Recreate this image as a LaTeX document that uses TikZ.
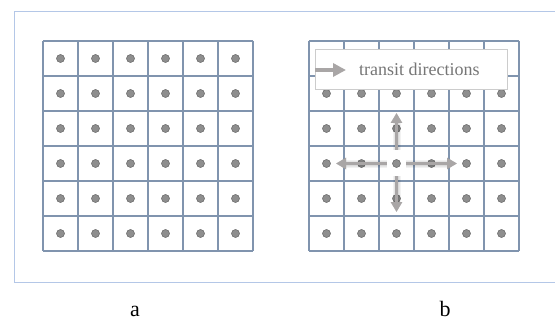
\documentclass[tikz,border=0pt]{standalone}
\usepackage{fontspec}
\setmainfont{Liberation Serif}
\usetikzlibrary{arrows.meta}
\definecolor{gridc}{HTML}{8094AE}
\definecolor{framec}{HTML}{B4C7E7}
\definecolor{dotfill}{HTML}{8E8E8E}
\definecolor{dotline}{HTML}{6E6E6E}
\definecolor{arrc}{HTML}{A9A6A6}
\definecolor{legline}{HTML}{CCCCCC}
\definecolor{legtext}{HTML}{767676}
\tikzset{
  gridline/.style={draw=gridc, line width=1.6pt},
  dotnode/.style={circle, fill=dotfill, draw=dotline, line width=0.6pt, inner sep=0pt, minimum size=8pt},
  dirarrow/.style={draw=arrc, line width=2.8pt, -{Triangle[length=10pt,width=11pt]}},
  shadowarrow/.style={draw=black, opacity=0.05, line width=#1, -{Triangle[length=10pt,width=11pt]}},
  framebox/.style={draw=framec, line width=1pt},
  legendbox/.style={draw=legline, fill=white, line width=0.8pt, minimum width=192pt, minimum height=40pt, inner sep=0pt},
  sublabel/.style={font=\fontsize{22}{24}\selectfont, anchor=base}
}
\begin{document}
\begin{tikzpicture}[x=1pt,y=-1pt]
\useasboundingbox (0,0) rectangle (555,321);
% frame
\draw[framebox] (560,12) -- (14,12) -- (14,282) -- (560,282);
% grids
\foreach \ox/\nm in {43/a,309/b}{
  \foreach \k in {0,...,6}{
    \draw[gridline] ({\ox+35*\k},41) -- ({\ox+35*\k},251);
    \draw[gridline] (\ox,{41+35*\k}) -- ({\ox+210},{41+35*\k});
  }
  \foreach \i in {0,...,5}{
    \foreach \j in {0,...,5}{
      \node[dotnode] (\nm-\i-\j) at ({\ox+35*\i+17.5},{41+35*\j+17.5}) {};
    }
  }
}
% direction arrows with soft shadows
\coordinate (stU) at (396.5,150);
\coordinate (stD) at (396.5,176);
\coordinate (stR) at (406,163.5);
\coordinate (stL) at (387,163.5);
\coordinate (tipU) at (396.5,113);
\coordinate (tipD) at (396.5,212);
\coordinate (tipR) at (457,163.5);
\coordinate (tipL) at (336,163.5);
\begin{scope}[shift={(3,4)}]
  \foreach \w in {8pt,6pt,4pt}{
    \draw[shadowarrow=\w] (stU) -- (tipU);
    \draw[shadowarrow=\w] (stD) -- (tipD);
    \draw[shadowarrow=\w] (stR) -- (tipR);
    \draw[shadowarrow=\w] (stL) -- (tipL);
  }
\end{scope}
\draw[dirarrow] (stU) -- (tipU);
\draw[dirarrow] (stD) -- (tipD);
\draw[dirarrow] (stR) -- (tipR);
\draw[dirarrow] (stL) -- (tipL);
% legend
\node[legendbox] (legend) at (411,69) {};
\coordinate (legA) at (315,70);
\coordinate (legB) at (346,70);
\draw[draw=arrc, line width=4pt, -{Triangle[length=13pt,width=13pt]}] (legA) -- (legB);
\node[anchor=base west, font=\fontsize{18}{20}\selectfont, text=legtext, inner sep=0pt] (legtxt) at (359,75.5) {transit directions};
% labels
\node[sublabel] (la) at (135,316) {a};
\node[sublabel] (lb) at (445,316) {b};
\end{tikzpicture}
\end{document}
